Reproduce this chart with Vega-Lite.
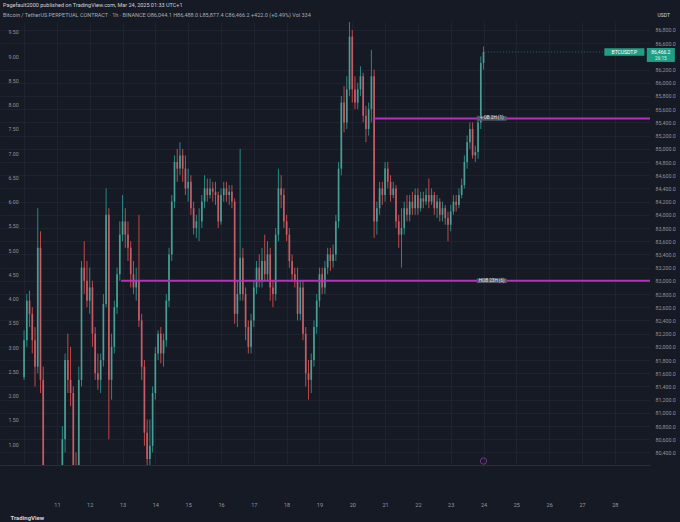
{
  "$schema": "https://vega.github.io/schema/vega-lite/v6.json",
  "autosize": "none",
  "width": 650,
  "height": 443,
  "padding": {"left": 0, "top": 22, "right": 30, "bottom": 57},
  "background": "#161a25",
  "title": {
    "text": "Pagefault2000 published on TradingView.com, Mar 24, 2025 01:33 UTC+1",
    "subtitle": "\u00a0\u00a0\u00a0\u00a0\u00a0\u00a0\u00a0\u00a0\u00a0\u00a0\u00a0\u00a0\u00a0\u00a0\u00a0\u00a0Bitcoin / TetherUS PERPETUAL CONTRACT · 1h · BINANCE   O86,044.1  H86,488.0  L85,877.4  C86,466.2  +422.0 (+0.49%)  Vol 334",
    "anchor": "start",
    "frame": "group",
    "dx": 3,
    "dy": 9,
    "offset": 3,
    "font": "Roboto",
    "fontSize": 5.5,
    "fontWeight": "normal",
    "color": "#d1d4dc",
    "subtitleFont": "Roboto",
    "subtitleFontSize": 5.5,
    "subtitleColor": "#a7abb6",
    "subtitlePadding": 4
  },
  "datasets": {
    "candles": [
      {"t": "2025-03-10T00:00Z", "o": 81540, "h": 82250, "l": 81500, "c": 82100},
      {"t": "2025-03-10T02:00Z", "o": 82100, "h": 82800, "l": 82000, "c": 82700},
      {"t": "2025-03-10T04:00Z", "o": 82700, "h": 82850, "l": 82300, "c": 82500},
      {"t": "2025-03-10T06:00Z", "o": 82500, "h": 82600, "l": 81900, "c": 82100},
      {"t": "2025-03-10T08:00Z", "o": 82100, "h": 82300, "l": 81400, "c": 81700},
      {"t": "2025-03-10T10:00Z", "o": 81700, "h": 84100, "l": 81600, "c": 83500},
      {"t": "2025-03-10T12:00Z", "o": 83500, "h": 83750, "l": 81300, "c": 81500},
      {"t": "2025-03-10T14:00Z", "o": 81500, "h": 81700, "l": 79500, "c": 80000},
      {"t": "2025-03-10T16:00Z", "o": 80000, "h": 80100, "l": 79000, "c": 79300},
      {"t": "2025-03-10T18:00Z", "o": 79300, "h": 79600, "l": 78200, "c": 78500},
      {"t": "2025-03-10T20:00Z", "o": 78500, "h": 79000, "l": 78000, "c": 78800},
      {"t": "2025-03-10T22:00Z", "o": 78800, "h": 79100, "l": 77900, "c": 78300},
      {"t": "2025-03-11T00:00Z", "o": 78300, "h": 78600, "l": 77400, "c": 77800},
      {"t": "2025-03-11T02:00Z", "o": 77800, "h": 78000, "l": 76700, "c": 77000},
      {"t": "2025-03-11T04:00Z", "o": 77000, "h": 80800, "l": 76600, "c": 80600},
      {"t": "2025-03-11T06:00Z", "o": 80600, "h": 81900, "l": 80400, "c": 81800},
      {"t": "2025-03-11T08:00Z", "o": 81800, "h": 82200, "l": 81300, "c": 81500},
      {"t": "2025-03-11T10:00Z", "o": 81500, "h": 82000, "l": 81100, "c": 81300},
      {"t": "2025-03-11T12:00Z", "o": 81300, "h": 81400, "l": 79800, "c": 80100},
      {"t": "2025-03-11T14:00Z", "o": 80100, "h": 80400, "l": 79500, "c": 79800},
      {"t": "2025-03-11T16:00Z", "o": 79800, "h": 81700, "l": 79600, "c": 81500},
      {"t": "2025-03-11T18:00Z", "o": 81500, "h": 83300, "l": 81400, "c": 83200},
      {"t": "2025-03-11T20:00Z", "o": 83200, "h": 83600, "l": 82800, "c": 83000},
      {"t": "2025-03-11T22:00Z", "o": 83000, "h": 83300, "l": 82600, "c": 82700},
      {"t": "2025-03-12T00:00Z", "o": 82700, "h": 83200, "l": 82500, "c": 82900},
      {"t": "2025-03-12T02:00Z", "o": 82900, "h": 83000, "l": 82000, "c": 82200},
      {"t": "2025-03-12T04:00Z", "o": 82200, "h": 82300, "l": 81500, "c": 81600},
      {"t": "2025-03-12T06:00Z", "o": 81600, "h": 81900, "l": 81350, "c": 81500},
      {"t": "2025-03-12T08:00Z", "o": 81500, "h": 81900, "l": 81300, "c": 81800},
      {"t": "2025-03-12T10:00Z", "o": 81800, "h": 82800, "l": 81700, "c": 82650},
      {"t": "2025-03-12T12:00Z", "o": 82650, "h": 84400, "l": 82600, "c": 84000},
      {"t": "2025-03-12T14:00Z", "o": 84000, "h": 84100, "l": 80600, "c": 81500},
      {"t": "2025-03-12T16:00Z", "o": 81500, "h": 82200, "l": 81200, "c": 82000},
      {"t": "2025-03-12T18:00Z", "o": 82000, "h": 82700, "l": 81900, "c": 82600},
      {"t": "2025-03-12T20:00Z", "o": 82600, "h": 83200, "l": 82500, "c": 83100},
      {"t": "2025-03-12T22:00Z", "o": 83100, "h": 83900, "l": 83000, "c": 83700},
      {"t": "2025-03-13T00:00Z", "o": 83700, "h": 84300, "l": 83600, "c": 83900},
      {"t": "2025-03-13T02:00Z", "o": 83900, "h": 84100, "l": 83500, "c": 83700},
      {"t": "2025-03-13T04:00Z", "o": 83700, "h": 83900, "l": 83300, "c": 83500},
      {"t": "2025-03-13T06:00Z", "o": 83500, "h": 83600, "l": 82900, "c": 83100},
      {"t": "2025-03-13T08:00Z", "o": 83100, "h": 83300, "l": 82800, "c": 82900},
      {"t": "2025-03-13T10:00Z", "o": 82900, "h": 83200, "l": 82700, "c": 83000},
      {"t": "2025-03-13T12:00Z", "o": 83000, "h": 84000, "l": 82300, "c": 82400},
      {"t": "2025-03-13T14:00Z", "o": 82400, "h": 82500, "l": 81500, "c": 81700},
      {"t": "2025-03-13T16:00Z", "o": 81700, "h": 81800, "l": 80500, "c": 80700},
      {"t": "2025-03-13T18:00Z", "o": 80700, "h": 80900, "l": 80000, "c": 80300},
      {"t": "2025-03-13T20:00Z", "o": 80300, "h": 80900, "l": 80050, "c": 80500},
      {"t": "2025-03-13T22:00Z", "o": 80500, "h": 81400, "l": 80400, "c": 81300},
      {"t": "2025-03-14T00:00Z", "o": 81300, "h": 82000, "l": 81200, "c": 81900},
      {"t": "2025-03-14T02:00Z", "o": 81900, "h": 82250, "l": 81800, "c": 82200},
      {"t": "2025-03-14T04:00Z", "o": 82200, "h": 82300, "l": 81750, "c": 81900},
      {"t": "2025-03-14T06:00Z", "o": 81900, "h": 82200, "l": 81700, "c": 82100},
      {"t": "2025-03-14T08:00Z", "o": 82100, "h": 82800, "l": 82000, "c": 82700},
      {"t": "2025-03-14T10:00Z", "o": 82700, "h": 83500, "l": 82600, "c": 83400},
      {"t": "2025-03-14T12:00Z", "o": 83400, "h": 84300, "l": 83300, "c": 84200},
      {"t": "2025-03-14T14:00Z", "o": 84200, "h": 84900, "l": 84100, "c": 84800},
      {"t": "2025-03-14T16:00Z", "o": 84800, "h": 85000, "l": 84500, "c": 84700},
      {"t": "2025-03-14T18:00Z", "o": 84700, "h": 85100, "l": 84600, "c": 84900},
      {"t": "2025-03-14T20:00Z", "o": 84900, "h": 85000, "l": 84500, "c": 84700},
      {"t": "2025-03-14T22:00Z", "o": 84700, "h": 84900, "l": 84300, "c": 84400},
      {"t": "2025-03-15T00:00Z", "o": 84400, "h": 84700, "l": 84200, "c": 84500},
      {"t": "2025-03-15T02:00Z", "o": 84500, "h": 84600, "l": 84000, "c": 84100},
      {"t": "2025-03-15T04:00Z", "o": 84100, "h": 84200, "l": 83700, "c": 83800},
      {"t": "2025-03-15T06:00Z", "o": 83800, "h": 84000, "l": 83650, "c": 83900},
      {"t": "2025-03-15T08:00Z", "o": 83900, "h": 84100, "l": 83600, "c": 83900},
      {"t": "2025-03-15T10:00Z", "o": 83900, "h": 84300, "l": 83800, "c": 84200},
      {"t": "2025-03-15T12:00Z", "o": 84200, "h": 84600, "l": 84100, "c": 84400},
      {"t": "2025-03-15T14:00Z", "o": 84400, "h": 84550, "l": 84200, "c": 84300},
      {"t": "2025-03-15T16:00Z", "o": 84300, "h": 84550, "l": 84250, "c": 84400},
      {"t": "2025-03-15T18:00Z", "o": 84400, "h": 84500, "l": 84200, "c": 84350},
      {"t": "2025-03-15T20:00Z", "o": 84350, "h": 84500, "l": 84150, "c": 84300},
      {"t": "2025-03-15T22:00Z", "o": 84300, "h": 84350, "l": 83800, "c": 83900},
      {"t": "2025-03-16T00:00Z", "o": 83900, "h": 84400, "l": 83850, "c": 84300},
      {"t": "2025-03-16T02:00Z", "o": 84300, "h": 84500, "l": 84200, "c": 84400},
      {"t": "2025-03-16T04:00Z", "o": 84400, "h": 84500, "l": 84200, "c": 84300},
      {"t": "2025-03-16T06:00Z", "o": 84300, "h": 84450, "l": 84150, "c": 84350},
      {"t": "2025-03-16T08:00Z", "o": 84350, "h": 84450, "l": 84100, "c": 84200},
      {"t": "2025-03-16T10:00Z", "o": 84200, "h": 84250, "l": 82350, "c": 82500},
      {"t": "2025-03-16T12:00Z", "o": 82500, "h": 83000, "l": 82300, "c": 82800},
      {"t": "2025-03-16T14:00Z", "o": 82800, "h": 85000, "l": 82700, "c": 83350},
      {"t": "2025-03-16T16:00Z", "o": 83350, "h": 83500, "l": 82700, "c": 82800},
      {"t": "2025-03-16T18:00Z", "o": 82800, "h": 82900, "l": 82100, "c": 82300},
      {"t": "2025-03-16T20:00Z", "o": 82300, "h": 82400, "l": 81900, "c": 82000},
      {"t": "2025-03-16T22:00Z", "o": 82000, "h": 82500, "l": 81900, "c": 82400},
      {"t": "2025-03-17T00:00Z", "o": 82400, "h": 83000, "l": 82300, "c": 82900},
      {"t": "2025-03-17T02:00Z", "o": 82900, "h": 83300, "l": 82800, "c": 83200},
      {"t": "2025-03-17T04:00Z", "o": 83200, "h": 83400, "l": 82900, "c": 83000},
      {"t": "2025-03-17T06:00Z", "o": 83000, "h": 83500, "l": 82900, "c": 83300},
      {"t": "2025-03-17T08:00Z", "o": 83300, "h": 83700, "l": 83000, "c": 83100},
      {"t": "2025-03-17T10:00Z", "o": 83100, "h": 83600, "l": 83000, "c": 83400},
      {"t": "2025-03-17T12:00Z", "o": 83400, "h": 83500, "l": 82700, "c": 82900},
      {"t": "2025-03-17T14:00Z", "o": 82900, "h": 83000, "l": 82600, "c": 82800},
      {"t": "2025-03-17T16:00Z", "o": 82800, "h": 83800, "l": 82700, "c": 83700},
      {"t": "2025-03-17T18:00Z", "o": 83700, "h": 84700, "l": 83600, "c": 84400},
      {"t": "2025-03-17T20:00Z", "o": 84400, "h": 84600, "l": 84100, "c": 84300},
      {"t": "2025-03-17T22:00Z", "o": 84300, "h": 84400, "l": 83800, "c": 83900},
      {"t": "2025-03-18T00:00Z", "o": 83900, "h": 84000, "l": 83600, "c": 83700},
      {"t": "2025-03-18T02:00Z", "o": 83700, "h": 83800, "l": 83200, "c": 83300},
      {"t": "2025-03-18T04:00Z", "o": 83300, "h": 83400, "l": 83000, "c": 83100},
      {"t": "2025-03-18T06:00Z", "o": 83100, "h": 83200, "l": 82900, "c": 83000},
      {"t": "2025-03-18T08:00Z", "o": 83000, "h": 83200, "l": 82400, "c": 82500},
      {"t": "2025-03-18T10:00Z", "o": 82500, "h": 83000, "l": 82400, "c": 82900},
      {"t": "2025-03-18T12:00Z", "o": 82900, "h": 83000, "l": 82100, "c": 82200},
      {"t": "2025-03-18T14:00Z", "o": 82200, "h": 82300, "l": 81400, "c": 81600},
      {"t": "2025-03-18T16:00Z", "o": 81600, "h": 81800, "l": 81200, "c": 81500},
      {"t": "2025-03-18T18:00Z", "o": 81500, "h": 81900, "l": 81300, "c": 81800},
      {"t": "2025-03-18T20:00Z", "o": 81800, "h": 82400, "l": 81700, "c": 82300},
      {"t": "2025-03-18T22:00Z", "o": 82300, "h": 82800, "l": 82200, "c": 82700},
      {"t": "2025-03-19T00:00Z", "o": 82700, "h": 83200, "l": 82600, "c": 83100},
      {"t": "2025-03-19T02:00Z", "o": 83100, "h": 83200, "l": 82800, "c": 82900},
      {"t": "2025-03-19T04:00Z", "o": 82900, "h": 83300, "l": 82800, "c": 83200},
      {"t": "2025-03-19T06:00Z", "o": 83200, "h": 83500, "l": 83100, "c": 83400},
      {"t": "2025-03-19T08:00Z", "o": 83400, "h": 83500, "l": 83150, "c": 83300},
      {"t": "2025-03-19T10:00Z", "o": 83300, "h": 83550, "l": 83200, "c": 83400},
      {"t": "2025-03-19T12:00Z", "o": 83400, "h": 84000, "l": 83300, "c": 83900},
      {"t": "2025-03-19T14:00Z", "o": 83900, "h": 84800, "l": 83800, "c": 84700},
      {"t": "2025-03-19T16:00Z", "o": 84700, "h": 85800, "l": 84600, "c": 85700},
      {"t": "2025-03-19T18:00Z", "o": 85700, "h": 85950, "l": 85250, "c": 85400},
      {"t": "2025-03-19T20:00Z", "o": 85400, "h": 86100, "l": 85300, "c": 85900},
      {"t": "2025-03-19T22:00Z", "o": 85900, "h": 87000, "l": 85800, "c": 86700},
      {"t": "2025-03-20T00:00Z", "o": 86700, "h": 86800, "l": 85700, "c": 85900},
      {"t": "2025-03-20T02:00Z", "o": 85900, "h": 86100, "l": 85600, "c": 85700},
      {"t": "2025-03-20T04:00Z", "o": 85700, "h": 86000, "l": 85600, "c": 85900},
      {"t": "2025-03-20T06:00Z", "o": 85900, "h": 86250, "l": 85800, "c": 86100},
      {"t": "2025-03-20T08:00Z", "o": 86100, "h": 86150, "l": 85400, "c": 85500},
      {"t": "2025-03-20T10:00Z", "o": 85500, "h": 85650, "l": 85100, "c": 85300},
      {"t": "2025-03-20T12:00Z", "o": 85300, "h": 85700, "l": 85200, "c": 85600},
      {"t": "2025-03-20T14:00Z", "o": 85600, "h": 86500, "l": 85400, "c": 86100},
      {"t": "2025-03-20T16:00Z", "o": 86100, "h": 86200, "l": 83650, "c": 83900},
      {"t": "2025-03-20T18:00Z", "o": 83900, "h": 84200, "l": 83700, "c": 84100},
      {"t": "2025-03-20T20:00Z", "o": 84100, "h": 84500, "l": 84000, "c": 84400},
      {"t": "2025-03-20T22:00Z", "o": 84400, "h": 84500, "l": 84150, "c": 84300},
      {"t": "2025-03-21T00:00Z", "o": 84300, "h": 84800, "l": 84200, "c": 84700},
      {"t": "2025-03-21T02:00Z", "o": 84700, "h": 84800, "l": 84400, "c": 84500},
      {"t": "2025-03-21T04:00Z", "o": 84500, "h": 84600, "l": 84200, "c": 84300},
      {"t": "2025-03-21T06:00Z", "o": 84300, "h": 84500, "l": 84250, "c": 84400},
      {"t": "2025-03-21T08:00Z", "o": 84400, "h": 84450, "l": 83800, "c": 83900},
      {"t": "2025-03-21T10:00Z", "o": 83900, "h": 84000, "l": 83500, "c": 83700},
      {"t": "2025-03-21T12:00Z", "o": 83700, "h": 84100, "l": 83200, "c": 83800},
      {"t": "2025-03-21T14:00Z", "o": 83800, "h": 84200, "l": 83700, "c": 84100},
      {"t": "2025-03-21T16:00Z", "o": 84100, "h": 84300, "l": 83900, "c": 84000},
      {"t": "2025-03-21T18:00Z", "o": 84000, "h": 84300, "l": 83900, "c": 84200},
      {"t": "2025-03-21T20:00Z", "o": 84200, "h": 84350, "l": 84000, "c": 84100},
      {"t": "2025-03-21T22:00Z", "o": 84100, "h": 84400, "l": 84000, "c": 84300},
      {"t": "2025-03-22T00:00Z", "o": 84300, "h": 84400, "l": 84000, "c": 84100},
      {"t": "2025-03-22T02:00Z", "o": 84100, "h": 84350, "l": 84050, "c": 84250},
      {"t": "2025-03-22T04:00Z", "o": 84250, "h": 84350, "l": 84100, "c": 84200},
      {"t": "2025-03-22T06:00Z", "o": 84200, "h": 84400, "l": 84150, "c": 84300},
      {"t": "2025-03-22T08:00Z", "o": 84300, "h": 84550, "l": 84100, "c": 84200},
      {"t": "2025-03-22T10:00Z", "o": 84200, "h": 84400, "l": 84150, "c": 84300},
      {"t": "2025-03-22T12:00Z", "o": 84300, "h": 84350, "l": 84000, "c": 84100},
      {"t": "2025-03-22T14:00Z", "o": 84100, "h": 84300, "l": 83950, "c": 84200},
      {"t": "2025-03-22T16:00Z", "o": 84200, "h": 84250, "l": 83900, "c": 84000},
      {"t": "2025-03-22T18:00Z", "o": 84000, "h": 84200, "l": 83900, "c": 84100},
      {"t": "2025-03-22T20:00Z", "o": 84100, "h": 84150, "l": 83850, "c": 83950},
      {"t": "2025-03-22T22:00Z", "o": 83950, "h": 84050, "l": 83600, "c": 83850},
      {"t": "2025-03-23T00:00Z", "o": 83850, "h": 84150, "l": 83750, "c": 84050},
      {"t": "2025-03-23T02:00Z", "o": 84050, "h": 84300, "l": 84000, "c": 84200},
      {"t": "2025-03-23T04:00Z", "o": 84200, "h": 84300, "l": 84050, "c": 84150},
      {"t": "2025-03-23T06:00Z", "o": 84150, "h": 84400, "l": 84100, "c": 84300},
      {"t": "2025-03-23T08:00Z", "o": 84300, "h": 84550, "l": 84250, "c": 84450},
      {"t": "2025-03-23T10:00Z", "o": 84450, "h": 84900, "l": 84400, "c": 84800},
      {"t": "2025-03-23T12:00Z", "o": 84800, "h": 85200, "l": 84700, "c": 85100},
      {"t": "2025-03-23T14:00Z", "o": 85100, "h": 85400, "l": 85000, "c": 85300},
      {"t": "2025-03-23T16:00Z", "o": 85300, "h": 85400, "l": 84850, "c": 84900},
      {"t": "2025-03-23T18:00Z", "o": 84900, "h": 85050, "l": 84800, "c": 84950},
      {"t": "2025-03-23T20:00Z", "o": 84950, "h": 85500, "l": 84850, "c": 85400},
      {"t": "2025-03-23T22:00Z", "o": 85400, "h": 86400, "l": 85300, "c": 86300},
      {"t": "2025-03-24T00:00Z", "o": 86300, "h": 86550, "l": 86200, "c": 86466.2}
    ],
    "levels": [
      {"start": "2025-03-12T23:00Z", "end": "2025-03-29T12:00Z", "price": 83000, "mid": "2025-03-24T06:00Z", "label": "HOB 23H (6)"},
      {"start": "2025-03-20T15:00Z", "end": "2025-03-29T12:00Z", "price": 85460, "mid": "2025-03-24T06:00Z", "label": "+ OB 2H (1)"}
    ],
    "last": [
      {"start": "2025-03-24T01:00Z", "end": "2025-03-29T12:00Z", "tag": "2025-03-28T07:00Z", "box": "2025-03-29T09:40Z", "price": 86466.2, "symbol": "BTCUSDT.P", "countdown": "26:15"}
    ],
    "events": [
      {"t": "2025-03-24T00:00Z", "price": 80270}
    ]
  },
  "layer": [
    {
      "layer": [
        {
          "data": {"name": "candles"},
          "mark": {"type": "rule", "strokeWidth": 0.8, "clip": true},
          "encoding": {
            "x": {
              "field": "t",
              "type": "temporal",
              "scale": {
                "type": "utc",
                "domain": [
                  {"year": 2025, "month": 3, "date": 9, "hours": 10, "minutes": 3, "utc": true},
                  {"year": 2025, "month": 3, "date": 28, "hours": 22, "minutes": 5, "utc": true}
                ]
              },
              "axis": {
                "title": "TradingView",
                "titleFont": "Roboto",
                "titleFontSize": 6,
                "titleFontWeight": "bold",
                "titleColor": "#d1d4dc",
                "titleAnchor": "start",
                "titleAlign": "left",
                "titleBaseline": "top",
                "titleX": 10,
                "titleY": 49,
                "tickCount": 60,
                "values": [
                  {"year": 2025, "month": 3, "date": 10, "utc": true},
                  {"year": 2025, "month": 3, "date": 11, "utc": true},
                  {"year": 2025, "month": 3, "date": 12, "utc": true},
                  {"year": 2025, "month": 3, "date": 13, "utc": true},
                  {"year": 2025, "month": 3, "date": 14, "utc": true},
                  {"year": 2025, "month": 3, "date": 15, "utc": true},
                  {"year": 2025, "month": 3, "date": 16, "utc": true},
                  {"year": 2025, "month": 3, "date": 17, "utc": true},
                  {"year": 2025, "month": 3, "date": 18, "utc": true},
                  {"year": 2025, "month": 3, "date": 19, "utc": true},
                  {"year": 2025, "month": 3, "date": 20, "utc": true},
                  {"year": 2025, "month": 3, "date": 21, "utc": true},
                  {"year": 2025, "month": 3, "date": 22, "utc": true},
                  {"year": 2025, "month": 3, "date": 23, "utc": true},
                  {"year": 2025, "month": 3, "date": 24, "utc": true},
                  {"year": 2025, "month": 3, "date": 25, "utc": true},
                  {"year": 2025, "month": 3, "date": 26, "utc": true},
                  {"year": 2025, "month": 3, "date": 27, "utc": true},
                  {"year": 2025, "month": 3, "date": 28, "utc": true}
                ],
                "labelExpr": "utcdate(datum.value) == 10 ? '' : utcFormat(datum.value, '%-d')",
                "labelOverlap": false,
                "labelFont": "Roboto",
                "labelFontSize": 5.5,
                "labelColor": "#9598a1",
                "labelPadding": 37,
                "ticks": false,
                "domainColor": "#2a2e39",
                "grid": true,
                "gridColor": "#1f2330",
                "gridWidth": 1
              }
            },
            "y": {
              "field": "l",
              "type": "quantitative",
              "scale": {"domain": [80210, 86921], "zero": false, "nice": false},
              "axis": {
                "orient": "right",
                "title": "USDT",
                "titleFont": "Roboto",
                "titleFontSize": 5,
                "titleFontWeight": "normal",
                "titleColor": "#d1d4dc",
                "titleAngle": 0,
                "titleAlign": "left",
                "titleBaseline": "middle",
                "titleX": 7,
                "titleY": -8,
                "tickCount": 60,
                "values": [80400, 80600, 80800, 81000, 81200, 81400, 81600, 81800, 82000, 82200, 82400, 82600, 82800, 83000, 83200, 83400, 83600, 83800, 84000, 84200, 84400, 84600, 84800, 85000, 85200, 85400, 85600, 85800, 86000, 86200, 86600, 86800],
                "format": ",.1f",
                "labelOverlap": false,
                "labelFont": "Roboto",
                "labelFontSize": 5.3,
                "labelColor": "#8f929c",
                "labelPadding": 5,
                "ticks": false,
                "domain": false,
                "grid": true,
                "gridColor": "#1f2330",
                "gridWidth": 1
              }
            },
            "y2": {"field": "h"},
            "color": {
              "condition": {"test": "datum.c >= datum.o", "value": "#26a69a"},
              "value": "#ef5350"
            }
          }
        },
        {
          "data": {"name": "candles"},
          "mark": {"type": "bar", "size": 1.7, "clip": true, "opacity": 0.9},
          "encoding": {
            "x": {"field": "t", "type": "temporal"},
            "y": {"field": "o", "type": "quantitative"},
            "y2": {"field": "c"},
            "color": {
              "condition": {"test": "datum.c >= datum.o", "value": "#4fa397"},
              "value": "#c9606b"
            }
          }
        },
        {
          "data": {"name": "levels"},
          "mark": {"type": "rule", "color": "#b82fbf", "strokeWidth": 2, "clip": true},
          "encoding": {
            "x": {"field": "start", "type": "temporal"},
            "x2": {"field": "end"},
            "y": {"field": "price", "type": "quantitative"}
          }
        },
        {
          "data": {"name": "levels"},
          "mark": {
            "type": "point",
            "shape": "M-1,-0.15L1,-0.15L1,0.15L-1,0.15Z",
            "size": 900,
            "filled": true,
            "color": "#565866",
            "opacity": 1
          },
          "encoding": {
            "x": {"field": "mid", "type": "temporal"},
            "y": {"field": "price", "type": "quantitative"}
          }
        },
        {
          "data": {"name": "levels"},
          "mark": {"type": "text", "font": "Roboto", "fontSize": 4.6, "color": "#e6e6ea", "align": "center", "baseline": "middle"},
          "encoding": {
            "x": {"field": "mid", "type": "temporal"},
            "y": {"field": "price", "type": "quantitative"},
            "text": {"field": "label"}
          }
        },
        {
          "data": {"name": "last"},
          "mark": {"type": "rule", "color": "#26a69a", "strokeWidth": 0.7, "strokeDash": [1, 2], "opacity": 0.8, "clip": true},
          "encoding": {
            "x": {"field": "start", "type": "temporal"},
            "x2": {"field": "end"},
            "y": {"field": "price", "type": "quantitative"}
          }
        },
        {
          "data": {"name": "last"},
          "mark": {
            "type": "point",
            "shape": "M-1,-0.19L1,-0.19L1,0.19L-1,0.19Z",
            "size": 1600,
            "filled": true,
            "color": "#1f9e86",
            "opacity": 1,
            "clip": false
          },
          "encoding": {
            "x": {"field": "tag", "type": "temporal"},
            "y": {"field": "price", "type": "quantitative"}
          }
        },
        {
          "data": {"name": "last"},
          "mark": {"type": "text", "font": "Roboto", "fontSize": 5, "color": "#ffffff", "align": "center", "baseline": "middle"},
          "encoding": {
            "x": {"field": "tag", "type": "temporal"},
            "y": {"field": "price", "type": "quantitative"},
            "text": {"field": "symbol"}
          }
        },
        {
          "data": {"name": "last"},
          "mark": {
            "type": "point",
            "shape": "M-1,-0.29L1,-0.29L1,0.71L-1,0.71Z",
            "size": 784,
            "filled": true,
            "color": "#1f9e86",
            "opacity": 1,
            "clip": false
          },
          "encoding": {
            "x": {"field": "box", "type": "temporal"},
            "y": {"field": "price", "type": "quantitative"}
          }
        },
        {
          "data": {"name": "last"},
          "mark": {"type": "text", "font": "Roboto", "fontSize": 5, "color": "#ffffff", "align": "center", "baseline": "middle", "clip": false},
          "encoding": {
            "x": {"field": "box", "type": "temporal"},
            "y": {"field": "price", "type": "quantitative"},
            "text": {"field": "price", "format": ",.1f"}
          }
        },
        {
          "data": {"name": "last"},
          "mark": {"type": "text", "font": "Roboto", "fontSize": 4.6, "color": "#dff3ef", "align": "center", "baseline": "middle", "dy": 6.5, "clip": false},
          "encoding": {
            "x": {"field": "box", "type": "temporal"},
            "y": {"field": "price", "type": "quantitative"},
            "text": {"field": "countdown"}
          }
        },
        {
          "data": {"name": "events"},
          "mark": {"type": "point", "shape": "circle", "size": 40, "filled": false, "color": "#a03cb4", "strokeWidth": 1},
          "encoding": {
            "x": {"field": "t", "type": "temporal"},
            "y": {"field": "price", "type": "quantitative"}
          }
        }
      ]
    },
    {
      "data": {"values": [{"v": 1}, {"v": 9.5}]},
      "mark": {"type": "point", "opacity": 0},
      "encoding": {
        "y": {
          "field": "v",
          "type": "quantitative",
          "scale": {"domain": [0.567, 9.706], "zero": false, "nice": false},
          "axis": {
            "orient": "left",
            "title": null,
            "tickCount": 60,
            "values": [1, 1.5, 2, 2.5, 3, 3.5, 4, 4.5, 5, 5.5, 6, 6.5, 7, 7.5, 8, 8.5, 9, 9.5],
            "format": ".2f",
            "labelOverlap": false,
            "labelFont": "Roboto",
            "labelFontSize": 5.3,
            "labelColor": "#8f929c",
            "labelAlign": "left",
            "labelPadding": -8,
            "ticks": false,
            "domain": false,
            "grid": false
          }
        }
      }
    }
  ],
  "resolve": {"scale": {"y": "independent"}},
  "config": {
    "view": {"stroke": null, "fill": "#161a25"}
  }
}
